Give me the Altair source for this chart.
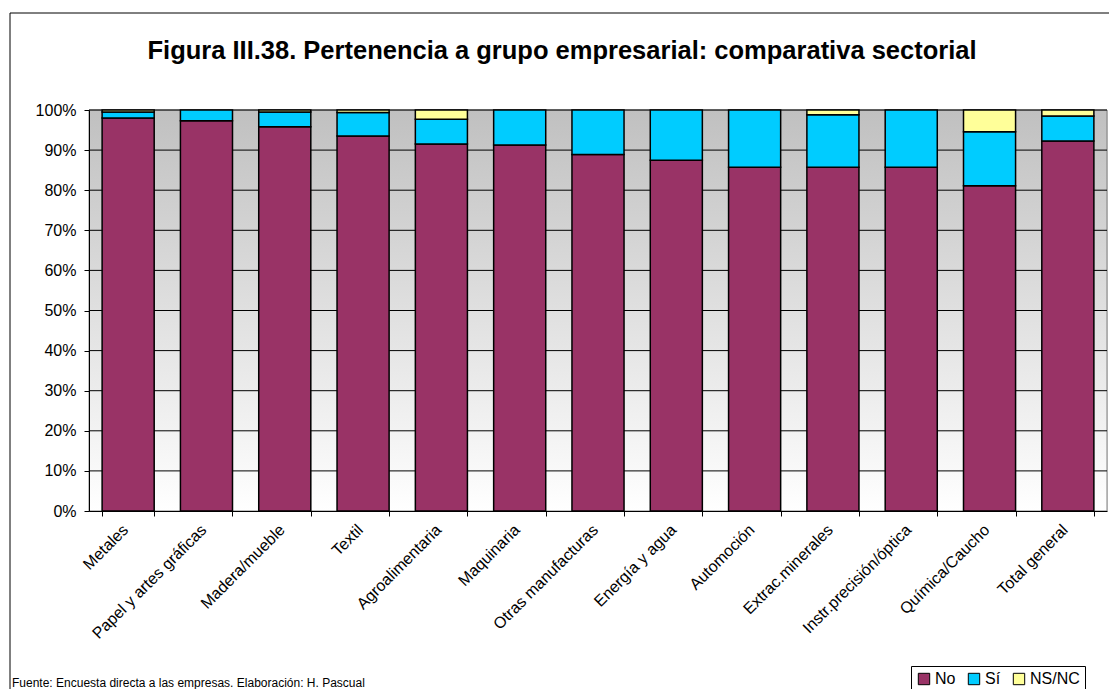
import altair as alt
import pandas as pd

categories = ["Metales", "Papel y artes gráficas", "Madera/mueble", "Textil",
              "Agroalimentaria", "Maquinaria", "Otras manufacturas",
              "Energía y agua", "Automoción", "Extrac.minerales",
              "Instr.precisión/óptica", "Química/Caucho", "Total general"]
no_vals = [98.0, 97.3, 95.8, 93.5, 91.5, 91.3, 88.9, 87.5, 85.7, 85.7, 85.7, 81.1, 92.3]
si_vals = [1.5, 2.7, 3.7, 5.9, 6.2, 8.7, 11.1, 12.5, 14.3, 13.1, 14.3, 13.5, 6.2]
ns_vals = [0.5, 0.0, 0.5, 0.6, 2.3, 0.0, 0.0, 0.0, 0.0, 1.2, 0.0, 5.4, 1.5]
series = ["No", "Sí", "NS/NC"]
colors = ["#993366", "#00CCFF", "#FFFF99"]
grid_ticks = [0.1, 0.2, 0.3, 0.4, 0.5, 0.6, 0.7, 0.8, 0.9, 1.0]
y_ticks = [0, 0.1, 0.2, 0.3, 0.4, 0.5, 0.6, 0.7, 0.8, 0.9, 1.0]

rows = []
for i, c in enumerate(categories):
    for k, (s, vals) in enumerate(zip(series, [no_vals, si_vals, ns_vals])):
        if vals[i] > 0:
            rows.append({"cat": c, "serie": s, "val": vals[i] / 100.0, "ord": k})
df = pd.DataFrame(rows)

W, H = 1018, 401
FONT = "Liberation Sans"

xscale = alt.Scale(domain=categories, paddingInner=0.335, paddingOuter=0.1675)
yscale = alt.Scale(domain=[0, 1], nice=False)

frame = alt.Chart(pd.DataFrame({"a": [0]})).mark_rect(
    fill="transparent", stroke="black", strokeWidth=1
).encode(x=alt.value(-79), x2=alt.value(1300), y=alt.value(-97), y2=alt.value(900))

bg = alt.Chart(pd.DataFrame({"a": [0]})).mark_rect(
    fill=alt.Gradient(gradient="linear", x1=0, y1=0, x2=0, y2=1,
                      stops=[alt.GradientStop(offset=0, color="#C0C0C0"),
                             alt.GradientStop(offset=1, color="#FFFFFF")]),
    stroke="#808080", strokeWidth=1
).encode(x=alt.value(0), x2=alt.value(W), y=alt.value(0), y2=alt.value(H))

grid = alt.Chart(pd.DataFrame({"t": grid_ticks})).mark_rule(
    color="black", strokeWidth=1
).encode(y=alt.Y("t:Q", scale=yscale))

bars = alt.Chart(df).mark_bar(stroke="black", strokeWidth=1.5).encode(
    x=alt.X("cat:N", scale=xscale, sort=categories,
            axis=alt.Axis(title=None, labelAngle=-45, labelAlign="right",
                          labelBaseline="middle", labelFontSize=16, labelFont=FONT,
                          labelColor="black", tickBand="extent", tickColor="black",
                          tickSize=5, domainColor="black", labelPadding=11,
                          labelOffset=-3,
                          grid=False, labelOverlap=False, zindex=1)),
    y=alt.Y("val:Q", stack="zero", scale=yscale,
            axis=alt.Axis(title=None, format=".0%", values=y_ticks,
                          labelFontSize=16, labelFont=FONT, labelColor="black",
                          tickColor="black", tickSize=5, domainColor="black",
                          labelPadding=8, grid=False, zindex=1)),
    color=alt.Color("serie:N", scale=alt.Scale(domain=series, range=colors),
                    legend=alt.Legend(title=None, orient="none", direction="horizontal",
                                      legendX=822, legendY=556,
                                      strokeColor="black", fillColor="white",
                                      padding=5, symbolType="square", symbolSize=130,
                                      symbolStrokeColor="black", symbolStrokeWidth=1,
                                      symbolOpacity=1, labelFontSize=16, labelFont=FONT,
                                      labelColor="black", columnPadding=10,
                                      labelOffset=3, cornerRadius=0)),
    order=alt.Order("ord:Q"),
)

title = alt.Chart(pd.DataFrame({"a": [0]})).mark_text(
    text="Figura III.38. Pertenencia a grupo empresarial: comparativa sectorial",
    font=FONT, fontSize=25.5, fontWeight="bold", color="black",
    align="center", baseline="middle"
).encode(x=alt.value(473), y=alt.value(-59))

footer = alt.Chart(pd.DataFrame({"a": [0]})).mark_text(
    text="Fuente: Encuesta directa a las empresas. Elaboración: H. Pascual",
    font=FONT, fontSize=12, color="black", align="left", baseline="middle"
).encode(x=alt.value(-77), y=alt.value(573))

chart = alt.layer(bg, grid, bars, frame, title, footer).properties(
    width=W, height=H,
    padding={"left": 81, "top": 102, "right": 2, "bottom": 178},
    autosize=alt.AutoSizeParams(type="none"),
).configure_view(stroke=None).configure(background="white")

chart.save("out.html", embed_options={"renderer": "svg", "actions": False})
